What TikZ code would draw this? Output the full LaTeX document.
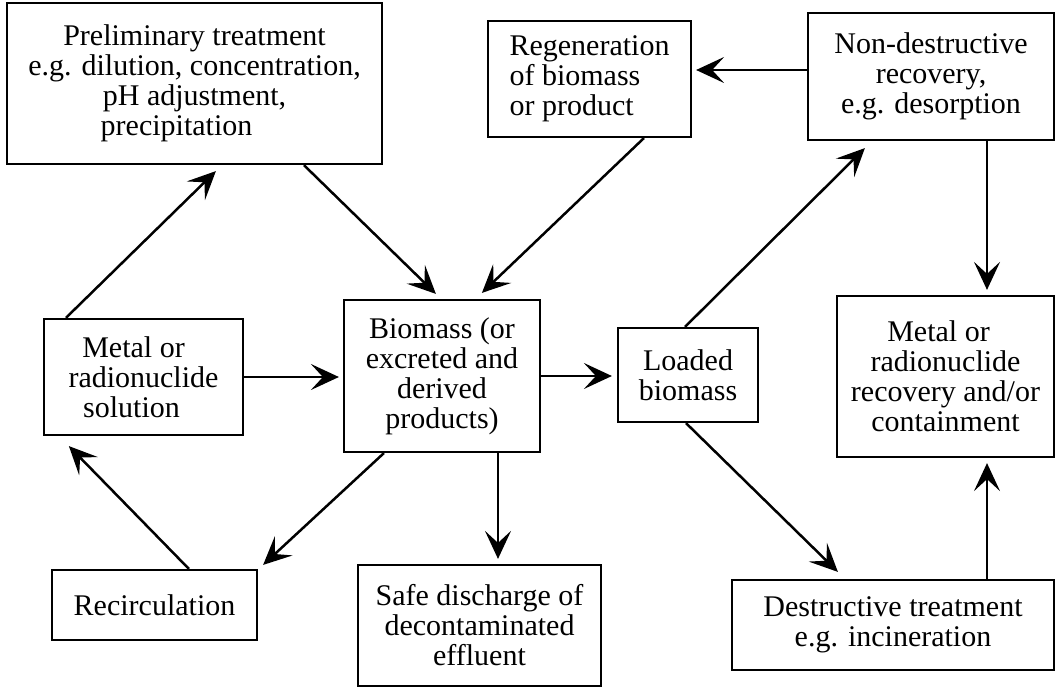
\documentclass[tikz,border=0pt]{standalone}
\usepackage{fontspec}
\setmainfont{Liberation Serif}
\usetikzlibrary{arrows.meta,calc}

\tikzset{
  blk/.style={draw, line width=2.2pt, align=center, inner sep=0pt,
    font=\fontsize{30}{30}\selectfont},
  flow/.style={-{Stealth[length=28pt,width=26pt,inset=12pt]}, line width=2.5pt},
}

\begin{document}
\begin{tikzpicture}[x=1pt, y=-1pt]
  \useasboundingbox (0,0) rectangle (1060,688);

  % Top row
  \node[blk, minimum width=375pt, minimum height=161pt] (prelim) at (194.5,83.5)
    {Preliminary treatment\\e.g. dilution, concentration,\\pH adjustment,\hspace*{36pt}\\precipitation\hspace*{36pt}};
  \node[blk, align=left, minimum width=203pt, minimum height=116pt] (regen) at (589.5,79)
    {Regeneration\\of biomass\\or product};
  \node[blk, minimum width=246pt, minimum height=127pt] (nondes) at (931,76.5)
    {Non-destructive\\recovery,\\e.g. desorption};

  % Middle row
  \node[blk, minimum width=199pt, minimum height=116pt] (sol) at (143.5,377)
    {Metal or\hspace*{20pt}\\radionuclide\\solution\hspace*{24pt}};
  \node[blk, minimum width=196pt, minimum height=152pt] (bio) at (442,376)
    {Biomass (or\\excreted and\\derived\\products)};
  \node[blk, minimum width=140pt, minimum height=94pt] (loaded) at (688,375)
    {Loaded\\biomass};
  \node[blk, minimum width=217pt, minimum height=161pt] (recov) at (945.5,376.5)
    {Metal or\hspace*{14pt}\\radionuclide\\recovery and/or\\containment};

  % Bottom row
  \node[blk, minimum width=205pt, minimum height=70pt] (recirc) at (154.5,605)
    {Recirculation};
  \node[blk, minimum width=243pt, minimum height=121pt] (safe) at (479.5,625.5)
    {Safe discharge of\\decontaminated\\effluent};
  \node[blk, minimum width=322pt, minimum height=90pt] (destr) at (893,625)
    {Destructive treatment\\e.g. incineration};

  % Connectors
  \draw[flow] ($(sol.north west)+(23,0)$) -- ($(prelim.south west)+(210,6)$);
  \draw[flow] ($(prelim.south west)+(298,0)$) -- ($(bio.north west)+(93,-5)$);
  \draw[flow] ($(regen.south west)+(157,0)$) -- ($(bio.north west)+(139,-6)$);
  \draw[flow] ([yshift=6.5pt]nondes.west) -- ([xshift=4pt,yshift=9pt]regen.east);
  \draw[flow] ($(loaded.north)+(-3,0)$) -- ($(nondes.south west)+(58,7)$);
  \draw[flow] ($(nondes.south)+(56,0)$) -- ($(recov.north)+(41.5,-5)$);
  \draw[flow] (sol.east) -- ([xshift=-4pt]sol.east -| bio.west);
  \draw[flow] (bio.east) -- ([xshift=-5pt]bio.east -| loaded.west);
  \draw[flow] ($(bio.south west)+(41,0)$) -- ($(recirc.north east)+(5,-4)$);
  \draw[flow] ($(recirc.north west)+(138,0)$) -- ($(sol.south west)+(26,10)$);
  \draw[flow] ($(bio.south)+(56,0)$) -- ($(safe.north)+(18.5,-5)$);
  \draw[flow] ($(loaded.south)+(-2,0)$) -- ($(destr.north west)+(107,-7)$);
  \draw[flow] ($(destr.north)+(94,0)$) -- ($(recov.south)+(41.5,5)$);
\end{tikzpicture}
\end{document}
